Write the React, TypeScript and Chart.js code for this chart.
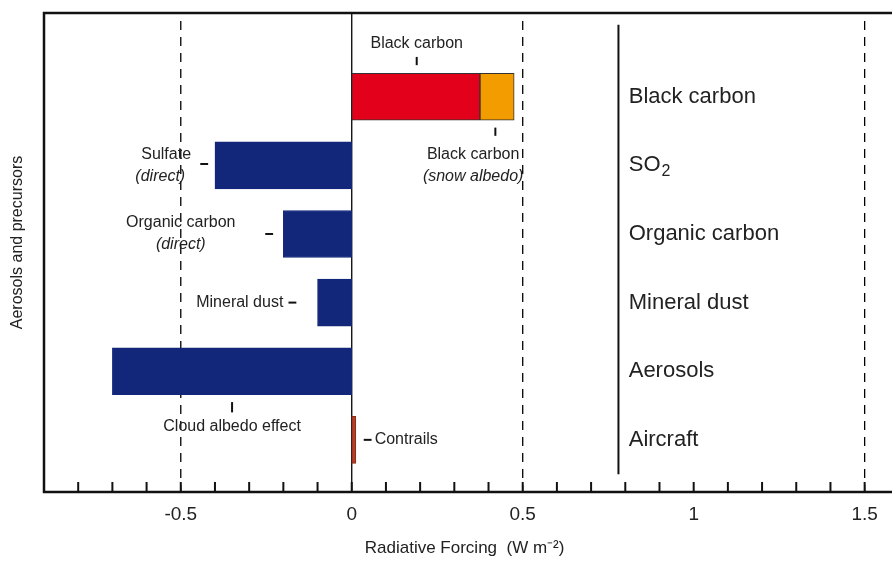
import React, { useEffect, useRef } from "react";
import { Chart, registerables } from "chart.js";
Chart.register(...registerables);

const rows = ["Black carbon", "SO2", "Organic carbon", "Mineral dust", "Aerosols", "Aircraft"];
const mainStart = [0, -0.4, -0.2, -0.1, -0.7, 0];
const mainEnd = [0.375, 0, 0, 0, 0, 0.012];
const mainColors = ["#e2001a", "#12267a", "#12267a", "#12267a", "#12267a", "#b5402a"];
const snowStart = [0.375];
const snowEnd = [0.475];
const dashedAt = [-0.5, 0.5, 1.5];
const tickLabels = ["-0.5", "0", "0.5", "1", "1.5"];

const FONT = "'Liberation Sans', Arial, sans-serif";

export default function App() {
  const ref = useRef<HTMLCanvasElement>(null);
  useEffect(() => {
    const deco = {
      id: "deco",
      beforeDatasetsDraw(c: any) {
        const { ctx, chartArea: a, scales } = c;
        const xs = scales.x;
        ctx.save();
        ctx.strokeStyle = "#000";
        ctx.lineWidth = 1.3;
        ctx.setLineDash([9, 7]);
        dashedAt.forEach((v) => {
          const px = xs.getPixelForValue(v);
          ctx.beginPath(); ctx.moveTo(px, a.top + 8); ctx.lineTo(px, a.bottom); ctx.stroke();
        });
        ctx.setLineDash([]);
        const z = xs.getPixelForValue(0);
        ctx.beginPath(); ctx.moveTo(z, a.top); ctx.lineTo(z, a.bottom); ctx.stroke();
        ctx.restore();
      },
      afterDraw(c: any) {
        const { ctx, chartArea: a, scales } = c;
        const xs = scales.x, ys = scales.y;
        const X = (v: number) => xs.getPixelForValue(v);
        const Y = (v: number) => ys.getPixelForValue(v);
        ctx.save();
        ctx.strokeStyle = "#111";
        ctx.lineWidth = 2.5;
        ctx.beginPath();
        ctx.moveTo(a.right, a.top); ctx.lineTo(a.left, a.top); ctx.lineTo(a.left, a.bottom); ctx.lineTo(a.right, a.bottom);
        ctx.stroke();
        ctx.lineWidth = 2;
        for (let i = -8; i <= 15; i++) {
          const px = X(i / 10);
          ctx.beginPath(); ctx.moveTo(px, a.bottom); ctx.lineTo(px, a.bottom - 10); ctx.stroke();
        }
        ctx.fillStyle = "#222";
        ctx.textBaseline = "middle";
        ctx.textAlign = "center";
        ctx.font = `19px ${FONT}`;
        tickLabels.forEach((t) => ctx.fillText(t, X(Number(t)), a.bottom + 23));
        ctx.font = `17px ${FONT}`;
        ctx.fillText("Radiative Forcing  (W m⁻²)", X(0.33), a.bottom + 56);
        // separator line
        ctx.lineWidth = 2;
        ctx.beginPath(); ctx.moveTo(X(0.78), Y(-1.05)); ctx.lineTo(X(0.78), Y(5.5)); ctx.stroke();
        ctx.font = `22px ${FONT}`;
        ctx.textAlign = "left";
        rows.forEach((r, i) => {
          const x0 = X(0.81), y0 = Y(i);
          if (r === "SO2") {
            ctx.fillText("SO", x0, y0);
            const w = ctx.measureText("SO").width;
            ctx.font = `16px ${FONT}`;
            ctx.fillText("2", x0 + w + 1, y0 + 6);
            ctx.font = `22px ${FONT}`;
          } else ctx.fillText(r, x0, y0);
        });
        const txt = (s: string, x: number, y: number, align: any, italic = false) => {
          ctx.font = `${italic ? "italic " : ""}16px ${FONT}`;
          ctx.textAlign = align;
          ctx.fillText(s, x, y);
        };
        const seg = (x1: number, y1: number, x2: number, y2: number) => {
          ctx.beginPath(); ctx.moveTo(x1, y1); ctx.lineTo(x2, y2); ctx.stroke();
        };
        ctx.lineWidth = 2;
        txt("Black carbon", X(0.19), Y(-0.77), "center");
        seg(X(0.19), Y(-0.58), X(0.19), Y(-0.46));
        txt("Black carbon", X(0.355), Y(0.85), "center");
        txt("(snow albedo)", X(0.355), Y(1.17), "center", true);
        seg(X(0.42), Y(0.45), X(0.42), Y(0.57));
        txt("Sulfate", X(-0.47), Y(0.85), "right");
        txt("(direct)", X(-0.56), Y(1.17), "center", true);
        seg(X(-0.443), Y(0.98), X(-0.42), Y(0.98));
        txt("Organic carbon", X(-0.5), Y(1.83), "center");
        txt("(direct)", X(-0.5), Y(2.15), "center", true);
        seg(X(-0.253), Y(2), X(-0.23), Y(2));
        txt("Mineral dust", X(-0.2), Y(3), "right");
        seg(X(-0.185), Y(3), X(-0.162), Y(3));
        txt("Cloud albedo effect", X(-0.35), Y(4.8), "center");
        seg(X(-0.35), Y(4.45), X(-0.35), Y(4.6));
        seg(X(0.035), Y(5), X(0.058), Y(5));
        txt("Contrails", X(0.067), Y(5), "left");
        ctx.translate(18, (a.top + a.bottom) / 2 - 10);
        ctx.rotate(-Math.PI / 2);
        ctx.font = `16px ${FONT}`;
        ctx.textAlign = "center";
        ctx.fillText("Aerosols and precursors", 0, 0);
        ctx.restore();
      },
    };
    const chart = new Chart(ref.current!, {
      type: "bar",
      data: {
        datasets: [
          {
            data: rows.map((_, i) => ({ y: i, x: [mainStart[i], mainEnd[i]] })) as any,
            backgroundColor: mainColors,
            borderColor: ["#333", "#12267a", "#12267a", "#12267a", "#12267a", "#8a2a1a"],
            borderWidth: 1,
            borderSkipped: false,
          },
          {
            data: snowStart.map((s, i) => ({ y: i, x: [s, snowEnd[i]] })) as any,
            backgroundColor: "#f29c00",
            borderColor: "#333",
            borderWidth: 1,
            borderSkipped: false,
          },
        ],
      },
      plugins: [deco],
      options: {
        indexAxis: "y",
        animation: false,
        responsive: false,
        layout: { padding: { left: 44, top: 13, right: 0, bottom: 71 } },
        datasets: { bar: { barThickness: 47, grouped: false } } as any,
        plugins: { legend: { display: false }, tooltip: { enabled: false } },
        scales: {
          y: {
            type: "linear", reverse: true, min: -1.22, max: 5.76, display: false, offset: false,
            afterDataLimits: (s: any) => { s.min = -1.22; s.max = 5.76; },
          },
          x: {
            type: "linear", min: -0.9, max: 1.58, display: false, offset: false,
            afterDataLimits: (s: any) => { s.min = -0.9; s.max = 1.58; },
          },
        },
      },
    });
    return () => chart.destroy();
  }, []);
  return (
    <div style={{ position: "absolute", left: 0, top: 0 }}>
      <canvas ref={ref} width={892} height={563} style={{ width: 892, height: 563 }} />
    </div>
  );
}
